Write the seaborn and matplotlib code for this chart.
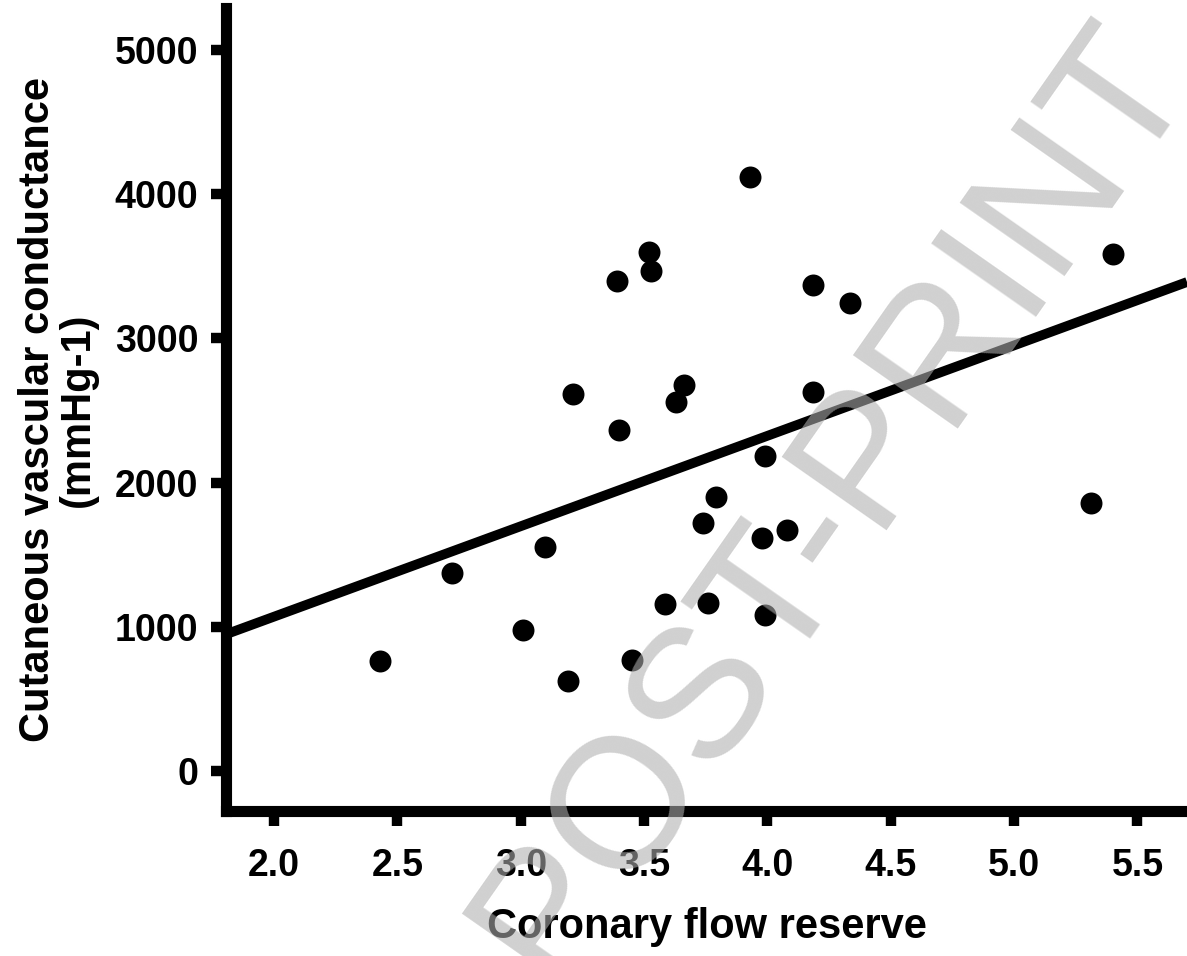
import matplotlib
matplotlib.use("Agg")
import matplotlib.pyplot as plt
import numpy as np
import pandas as pd
import seaborn as sns

# Coronary flow reserve vs cutaneous vascular conductance
cfr = [2.43, 2.72, 3.01, 3.19, 3.10, 3.21, 3.40, 3.39, 3.52, 3.53, 3.45, 3.585, 3.63, 3.66,
       3.74, 3.76, 3.79, 3.93, 3.99, 3.98, 3.99, 4.08, 4.185, 4.185, 4.335, 5.31, 5.40]
cvc = [764, 1375, 979, 625, 1556, 2618, 2368, 3396, 3597, 3465, 771, 1160, 2556, 2674,
       1722, 1167, 1903, 4118, 1083, 1618, 2188, 1674, 2632, 3368, 3243, 1861, 3583]

x_ticks = [2.0, 2.5, 3.0, 3.5, 4.0, 4.5, 5.0, 5.5]
y_ticks = [0, 1000, 2000, 3000, 4000, 5000]

df = pd.DataFrame({'cfr': cfr, 'cvc': cvc})

sns.set_style('ticks')
plt.rcParams['font.family'] = ['Liberation Sans', 'DejaVu Sans']
plt.rcParams['font.weight'] = 'bold'
for key in ['text.color', 'axes.labelcolor', 'xtick.color', 'ytick.color']:
    plt.rcParams[key] = 'black'

fig = plt.figure(figsize=(11.87, 9.56), dpi=100)
ax = fig.add_axes([0.1904, 0.1517, 0.8096, 0.840])
ax.set_xlim(1.805, 5.701)
ax.set_ylim(-277, 5292)

sns.regplot(data=df, x='cfr', y='cvc', ax=ax, ci=None, truncate=False,
            scatter_kws={'s': 250, 'color': 'black', 'linewidths': 0, 'alpha': 1},
            line_kws={'color': 'black', 'linewidth': 7, 'solid_capstyle': 'butt'})

ax.set_xticks(x_ticks)
ax.set_xticklabels([f'{t:.1f}' for t in x_ticks])
ax.set_yticks(y_ticks)
ax.set_yticklabels([str(t) for t in y_ticks])

for side in ['top', 'right']:
    ax.spines[side].set_visible(False)
for side in ['left', 'bottom']:
    ax.spines[side].set_linewidth(8)
    ax.spines[side].set_color('black')
ax.tick_params(axis='both', width=7.5, length=11, color='black', labelsize=27)
ax.tick_params(axis='x', pad=16)
ax.tick_params(axis='y', pad=9)
for lab in ax.get_xticklabels() + ax.get_yticklabels():
    lab.set_fontweight('bold')

ax.set_xlabel('Coronary flow reserve', fontsize=30, fontweight='bold', labelpad=16)
ax.set_ylabel('Cutaneous vascular conductance\n(mmHg-1)', fontsize=30, fontweight='bold',
              labelpad=12, linespacing=1.0)

# watermark
fig.text(0.7346, 0.4467, 'POST-PRINT', fontsize=134, color=(0.685, 0.685, 0.685), alpha=0.58,
         rotation=55, rotation_mode='anchor', ha='center', va='baseline',
         fontweight='normal', zorder=10)

fig.savefig('out.png', dpi=100)
